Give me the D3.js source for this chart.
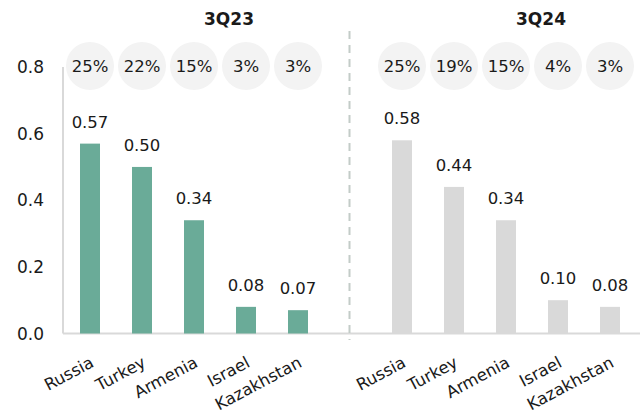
<!DOCTYPE html>
<html>
<head>
<meta charset="utf-8">
<script src="https://cdn.jsdelivr.net/npm/d3@7"></script>
<style>
  body { margin: 0; background: #fff; }
  svg text { font-family: "DejaVu Sans", sans-serif; fill: #1a1a1a; }
</style>
</head>
<body>
<div class="content"></div>
<script>
const countries = ['Russia', 'Turkey', 'Armenia', 'Israel', 'Kazakhstan']
const periods = ['3Q23', '3Q24']
const values23 = [0.57, 0.50, 0.34, 0.08, 0.07]
const values24 = [0.58, 0.44, 0.34, 0.10, 0.08]
const shares23 = ['25%', '22%', '15%', '3%', '3%']
const shares24 = ['25%', '19%', '15%', '4%', '3%']
const yTicks = [0, 0.2, 0.4, 0.6, 0.8]

const width = 640
const height = 419

const panels = [
  { title: periods[0], values: values23, shares: shares23, x0: 64, color: '#6aab98' },
  { title: periods[1], values: values24, shares: shares24, x0: 376, color: '#d9d9d9' }
]

const svg = d3.select('div.content')
  .append('svg')
  .attr('width', width)
  .attr('height', height)

const y = d3.scaleLinear().domain([0, 0.8]).range([333.5, 67])

// y axis labels + line
svg.selectAll('text.ytick')
  .data(yTicks)
  .enter()
  .append('text')
  .attr('class', 'ytick')
  .attr('x', 44)
  .attr('y', d => y(d))
  .attr('dy', '0.36em')
  .attr('text-anchor', 'end')
  .attr('font-size', 17)
  .text(d => d.toFixed(1))

svg.append('line')
  .attr('x1', 63).attr('x2', 63)
  .attr('y1', y(0.8)).attr('y2', y(0))
  .attr('stroke', '#d9d9d9')
  .attr('stroke-width', 2)

// baseline
svg.append('line')
  .attr('x1', 63).attr('x2', width)
  .attr('y1', y(0)).attr('y2', y(0))
  .attr('stroke', '#d9d9d9')
  .attr('stroke-width', 2)

// divider
svg.append('line')
  .attr('x1', 349.5).attr('x2', 349.5)
  .attr('y1', 31).attr('y2', 340)
  .attr('stroke', '#c3ccc8')
  .attr('stroke-width', 2)
  .attr('stroke-dasharray', '8,6')

panels.forEach(p => {
  const x = d3.scaleBand()
    .domain(countries)
    .range([p.x0, p.x0 + 260])
    .paddingInner(0.6154)
    .paddingOuter(0.3077)
  const g = svg.append('g')

  g.append('text')
    .attr('x', x('Armenia') + x.bandwidth() / 2 + 35)
    .attr('y', 25)
    .attr('text-anchor', 'middle')
    .attr('font-size', 17)
    .attr('font-weight', 'bold')
    .text(p.title)

  g.selectAll('circle')
    .data(countries)
    .enter()
    .append('circle')
    .attr('cx', d => x(d) + x.bandwidth() / 2)
    .attr('cy', 66)
    .attr('r', 24)
    .attr('fill', '#f3f3f3')

  g.selectAll('text.share')
    .data(p.shares)
    .enter()
    .append('text')
    .attr('class', 'share')
    .attr('x', (d, i) => x(countries[i]) + x.bandwidth() / 2)
    .attr('y', 66)
    .attr('dy', '0.36em')
    .attr('text-anchor', 'middle')
    .attr('font-size', 16.5)
    .text(d => d)

  g.selectAll('rect')
    .data(p.values)
    .enter()
    .append('rect')
    .attr('x', (d, i) => x(countries[i]))
    .attr('width', x.bandwidth())
    .attr('y', d => y(d))
    .attr('height', d => y(0) - y(d))
    .attr('fill', p.color)

  g.selectAll('text.val')
    .data(p.values)
    .enter()
    .append('text')
    .attr('class', 'val')
    .attr('x', (d, i) => x(countries[i]) + x.bandwidth() / 2)
    .attr('y', d => y(d) - 16)
    .attr('text-anchor', 'middle')
    .attr('font-size', 16.5)
    .text(d => d.toFixed(2))

  g.selectAll('text.cat')
    .data(countries)
    .enter()
    .append('text')
    .attr('class', 'cat')
    .attr('text-anchor', 'end')
    .attr('font-size', 16.5)
    .attr('transform', d => `translate(${x(d) + x.bandwidth() / 2 + 5},${366}) rotate(-28)`)
    .text(d => d)
})
</script>
</body>
</html>
